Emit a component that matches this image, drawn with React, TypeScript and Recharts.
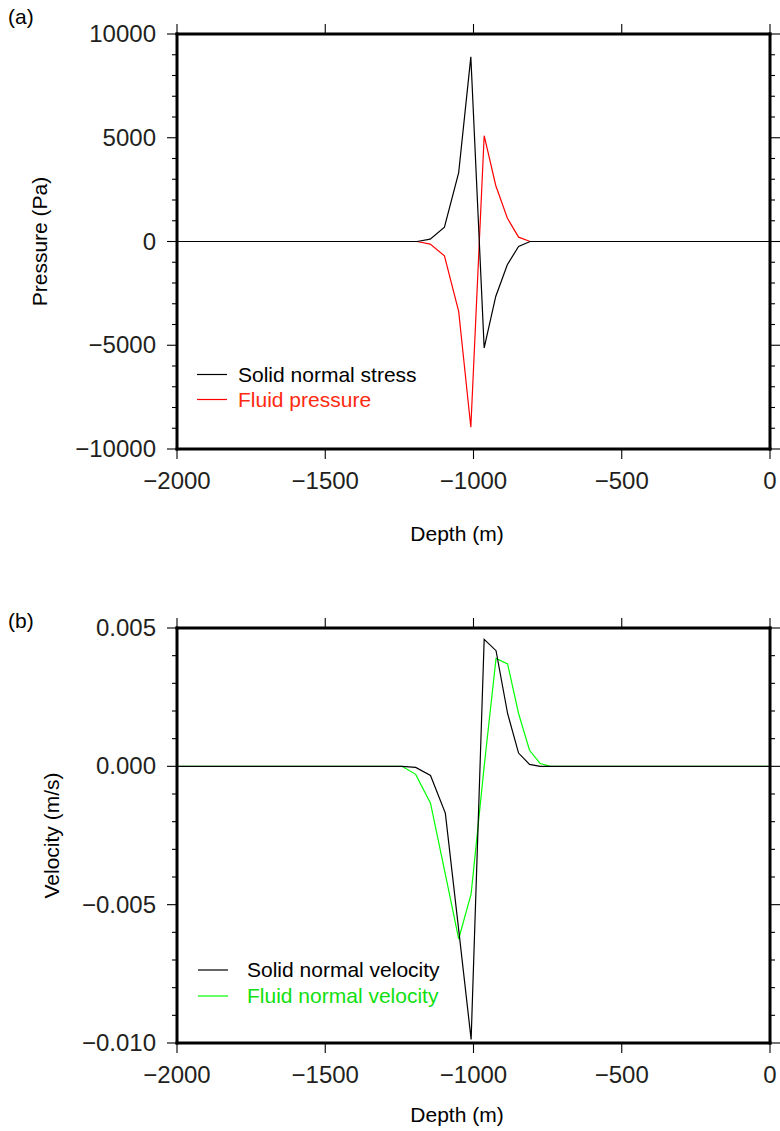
import { LineChart, Line, XAxis, YAxis, Legend } from "recharts";

const FONT = '"Liberation Sans", Arial, Helvetica, sans-serif';
const INK = "#231f20";

// (a) pressure vs depth
const depthA = [-2000, -1190, -1146, -1098, -1050, -1009, -964, -925, -886, -848, -809, 0];
const solidStress = [0, 0, 115, 690, 3320, 8900, -5130, -2650, -1120, -240, 0, 0];
const fluidPressure = [0, 0, -125, -690, -3370, -8950, 5100, 2700, 1130, 210, 0, 0];

// (b) velocity vs depth
const depthB = [-2000, -1241, -1195, -1145, -1095, -1050, -1008, -964, -924, -885, -848, -811, -775, -741, 0];
const solidVelocity = [0, 0, -0.00004, -0.00033, -0.00169, -0.0059, -0.00987, 0.00459, 0.00418, 0.00191, 0.00048, 0.00007, 0, 0, 0];
const fluidVelocity = [0, 0, -0.00029, -0.00133, -0.0039, -0.00624, -0.00461, 0, 0.0039, 0.0037, 0.00191, 0.00058, 0.0001, 0, 0];

// axes
const depthTicks = [-2000, -1500, -1000, -500, 0];
const pressureTicks = [
  -10000, -9000, -8000, -7000, -6000, -5000, -4000, -3000, -2000, -1000, 0,
  1000, 2000, 3000, 4000, 5000, 6000, 7000, 8000, 9000, 10000,
];
const pressureLabels = [-10000, -5000, 0, 5000, 10000];
const velocityTicks = [
  -0.01, -0.009, -0.008, -0.007, -0.006, -0.005, -0.004, -0.003, -0.002, -0.001,
  0, 0.001, 0.002, 0.003, 0.004, 0.005,
];
const velocityLabels = [-0.01, -0.005, 0, 0.005];

const pressureData = depthA.map((d, i) => ({ depth: d, solid: solidStress[i], fluid: fluidPressure[i] }));
const velocityData = depthB.map((d, i) => ({ depth: d, solid: solidVelocity[i], fluid: fluidVelocity[i] }));

const minus = (s: string) => s.replace("-", "\u2212");
const fmtDepth = (v: number) => (v === 0 ? "0" : minus(String(v)));
const fmtPressure = (v: number) => (v === 0 ? "0" : minus(String(v)));
const fmtVelocity = (v: number) => (Math.abs(v) < 1e-12 ? "0.000" : minus(v.toFixed(3)));

const isMajor = (v: number, majors: number[]) => majors.some((m) => Math.abs(m - v) < 1e-9);

function SideTick(props: any) {
  const { x, y, payload, majors, fmt, side } = props;
  const major = isMajor(payload.value, majors);
  const len = major ? 10 : 5;
  const dir = side === "left" ? -1 : 1;
  return (
    <g>
      <line x1={x} y1={y} x2={x + dir * len} y2={y} stroke="#000" strokeWidth={1.1} />
      {side === "left" && major && (
        <text x={x - 21} y={y + 8} textAnchor="end" fontSize={24} fill={INK} fontFamily={FONT}>
          {fmt(payload.value)}
        </text>
      )}
    </g>
  );
}

function DepthTick(props: any) {
  const { x, y, payload, side } = props;
  if (side === "top") {
    return <line x1={x} y1={y} x2={x} y2={y - 10} stroke="#000" strokeWidth={1.1} />;
  }
  return (
    <g>
      <line x1={x} y1={y} x2={x} y2={y + 10} stroke="#000" strokeWidth={1.1} />
      <text x={x} y={y + 39.5} textAnchor="middle" fontSize={24} fill={INK} fontFamily={FONT}>
        {fmtDepth(payload.value)}
      </text>
    </g>
  );
}

type Series = { key: string; name: string; stroke: string; text: string };

type PanelProps = {
  top: number;
  height: number;
  topAxisH: number;
  bottomAxisH: number;
  data: any[];
  series: Series[];
  yDomain: [number, number];
  yTicks: number[];
  yMajors: number[];
  fmt: (v: number) => string;
  yTitle: string;
  yTitleX: number;
  panelLabel: string;
  panelLabelY: number;
  xTitleDy: number;
  legendLeft: number;
  legendTop: number;
  legendRowH: number;
  legendTextX: number;
};

const frame = { stroke: "#000", strokeWidth: 3, strokeLinecap: "square" as const };

function Panel(p: PanelProps) {
  const plotH = p.height - p.topAxisH - p.bottomAxisH;
  // legend rows follow the series order (solid first), not recharts' sorted payload
  const renderLegend = () => (
    <div style={{ fontFamily: FONT, fontSize: 21 }}>
      {p.series.map((s) => (
        <div key={s.key} style={{ position: "relative", height: p.legendRowH, width: 300 }}>
          <svg width={31} height={p.legendRowH} style={{ position: "absolute", left: 0, top: 0 }}>
            <line x1={0} x2={30} y1={p.legendRowH / 2} y2={p.legendRowH / 2} stroke={s.stroke} strokeWidth={1.2} />
          </svg>
          <span
            style={{
              position: "absolute",
              left: p.legendTextX,
              top: 0,
              lineHeight: p.legendRowH + "px",
              whiteSpace: "nowrap",
              color: s.text,
            }}
          >
            {s.name}
          </span>
        </div>
      ))}
    </div>
  );

  // draw the fluid curve first so the solid curve sits on top of the shared zero line
  const drawOrder = [...p.series].reverse();

  return (
    <div style={{ position: "absolute", left: 0, top: p.top, width: 780, height: p.height }}>
      <LineChart width={780} height={p.height} data={p.data} margin={{ top: 0, right: 0, bottom: 0, left: 0 }}>
        <XAxis
          xAxisId="b"
          dataKey="depth"
          type="number"
          domain={[-2000, 0]}
          ticks={depthTicks}
          interval={0}
          height={p.bottomAxisH}
          tickSize={0}
          tickMargin={0}
          tickLine={false}
          axisLine={frame}
          tick={<DepthTick side="bottom" />}
          label={{
            value: "Depth (m)",
            content: (lp: any) => {
              const vb = lp.viewBox || {};
              return (
                <text
                  x={457}
                  y={(vb.y ?? p.topAxisH + plotH) + p.xTitleDy}
                  textAnchor="middle"
                  fontSize={21}
                  fill="#000"
                  fontFamily={FONT}
                >
                  Depth (m)
                </text>
              );
            },
          }}
        />
        <XAxis
          xAxisId="t"
          dataKey="depth"
          type="number"
          orientation="top"
          domain={[-2000, 0]}
          ticks={depthTicks}
          interval={0}
          height={p.topAxisH}
          tickSize={0}
          tickMargin={0}
          tickLine={false}
          axisLine={frame}
          tick={<DepthTick side="top" />}
          label={{
            value: p.panelLabel,
            content: () => (
              <text x={8} y={p.panelLabelY} fontSize={21} fill="#000" fontFamily={FONT}>
                {p.panelLabel}
              </text>
            ),
          }}
        />
        <YAxis
          yAxisId="l"
          type="number"
          domain={p.yDomain}
          ticks={p.yTicks}
          interval={0}
          width={177}
          allowDataOverflow
          tickSize={0}
          tickMargin={0}
          tickLine={false}
          axisLine={frame}
          tick={<SideTick side="left" majors={p.yMajors} fmt={p.fmt} />}
          label={{
            value: p.yTitle,
            content: () => {
              const cy = p.topAxisH + plotH / 2;
              return (
                <text
                  x={p.yTitleX}
                  y={cy}
                  transform={`rotate(-90 ${p.yTitleX} ${cy})`}
                  textAnchor="middle"
                  fontSize={21}
                  fill="#000"
                  fontFamily={FONT}
                >
                  {p.yTitle}
                </text>
              );
            },
          }}
        />
        <YAxis
          yAxisId="r"
          orientation="right"
          type="number"
          domain={p.yDomain}
          ticks={p.yTicks}
          interval={0}
          width={10}
          allowDataOverflow
          tickSize={0}
          tickMargin={0}
          tickLine={false}
          axisLine={frame}
          tick={<SideTick side="right" majors={p.yMajors} fmt={p.fmt} />}
        />
        <Legend
          layout="vertical"
          align="center"
          verticalAlign="middle"
          wrapperStyle={{ left: p.legendLeft, top: p.legendTop, width: 320 }}
          content={renderLegend}
        />
        {drawOrder.map((s) => (
          <Line
            key={s.key}
            xAxisId="b"
            yAxisId="l"
            type="linear"
            dataKey={s.key}
            name={s.name}
            stroke={s.stroke}
            strokeWidth={1.2}
            dot={false}
            activeDot={false}
            isAnimationActive={false}
          />
        ))}
      </LineChart>
    </div>
  );
}

export default function App() {
  return (
    <div style={{ position: "absolute", left: 0, top: 0, width: 780, height: 1131, background: "#fff" }}>
      <Panel
        top={0}
        height={565}
        topAxisH={34}
        bottomAxisH={116}
        data={pressureData}
        series={[
          { key: "solid", name: "Solid normal stress", stroke: "#000000", text: "#000000" },
          { key: "fluid", name: "Fluid pressure", stroke: "#ff0000", text: "#ff2a10" },
        ]}
        yDomain={[-10000, 10000]}
        yTicks={pressureTicks}
        yMajors={pressureLabels}
        fmt={fmtPressure}
        yTitle="Pressure (Pa)"
        yTitleX={47}
        panelLabel="(a)"
        panelLabelY={24}
        xTitleDy={92}
        legendLeft={197}
        legendTop={361.5}
        legendRowH={25}
        legendTextX={41}
      />
      <Panel
        top={565}
        height={566}
        topAxisH={63}
        bottomAxisH={88}
        data={velocityData}
        series={[
          { key: "solid", name: "Solid normal velocity", stroke: "#000000", text: "#000000" },
          { key: "fluid", name: "Fluid normal velocity", stroke: "#00ff00", text: "#10e010" },
        ]}
        yDomain={[-0.01, 0.005]}
        yTicks={velocityTicks}
        yMajors={velocityLabels}
        fmt={fmtVelocity}
        yTitle="Velocity (m/s)"
        yTitleX={59}
        panelLabel="(b)"
        panelLabelY={63}
        xTitleDy={79}
        legendLeft={198}
        legendTop={392}
        legendRowH={26}
        legendTextX={49}
      />
    </div>
  );
}
